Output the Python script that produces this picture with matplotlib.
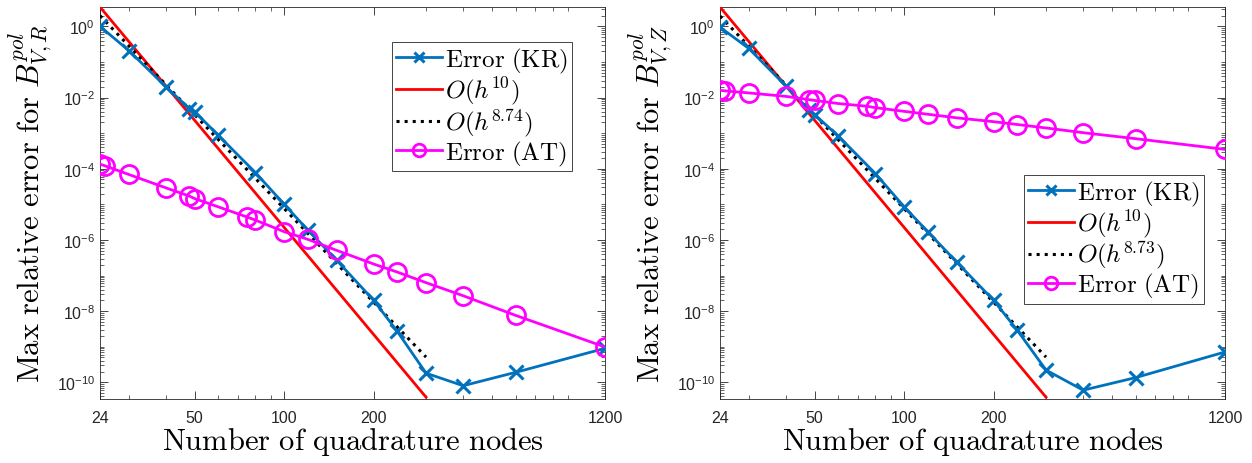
import numpy as np
import matplotlib
matplotlib.use("Agg")
import matplotlib.pyplot as plt
from matplotlib.ticker import FixedLocator, FixedFormatter, LogLocator, NullFormatter, LogFormatterSciNotation

# ---------------- data ----------------
kr_x = [24, 30, 40, 48, 50, 60, 80, 100, 120, 150, 200, 240, 300, 400, 600, 1200]
at_x = [24, 25, 30, 40, 48, 50, 60, 75, 80, 100, 120, 150, 200, 240, 300, 400, 600, 1200]

kr_R = [1.0, 0.21, 0.02, 4.9e-3, 4.0e-3, 8.7e-4, 7.8e-5, 1.0e-5, 1.9e-6, 2.7e-7,
        2.0e-8, 2.7e-9, 1.8e-10, 8.0e-11, 1.9e-10, 9.0e-10]
at_R = [1.35e-4, 1.2e-4, 6.9e-5, 2.9e-5, 1.7e-5, 1.45e-5, 8.5e-6, 4.4e-6, 3.6e-6,
        1.7e-6, 1.04e-6, 5.1e-7, 2.1e-7, 1.25e-7, 6.3e-8, 2.7e-8, 7.6e-9, 9.8e-10]

kr_Z = [0.95, 0.24, 0.021, 4.4e-3, 3.3e-3, 8.3e-4, 7.3e-5, 8.5e-6, 1.7e-6, 2.4e-7,
        2.0e-8, 2.9e-9, 2.2e-10, 6.0e-11, 1.35e-10, 7.1e-10]
at_Z = [0.016, 0.0154, 0.0135, 0.0108, 0.0087, 0.0083, 0.0068, 0.0057, 0.0052,
        0.0041, 0.0034, 0.0027, 0.0021, 0.00175, 0.0014, 0.00103, 7.0e-4, 3.5e-4]

ref_x = [24, 300]
ref10_y = [3.5, 3.8e-11]
refR_y = [2.0, 5.1e-10]
refZ_y = [1.95, 5.1e-10]

xticks = [24, 50, 100, 200, 1200]
xticklabels = ["24", "50", "100", "200", "1200"]

panels = [
    dict(kr=kr_R, at=at_R, ref=refR_y, rate="8.74", sub="V,R",
         legpos=(0.935, 0.911)),
    dict(kr=kr_Z, at=at_Z, ref=refZ_y, rate="8.73", sub="V,Z",
         legpos=(0.958, 0.572)),
]

# ---------------- style ----------------
plt.rcParams['font.family'] = ['Liberation Sans', 'DejaVu Sans']
plt.rcParams['mathtext.fontset'] = 'custom'
plt.rcParams['mathtext.rm'] = 'Liberation Sans'
plt.rcParams['mathtext.it'] = 'Liberation Sans:italic'
plt.rcParams['mathtext.bf'] = 'Liberation Sans:bold'

BLUE = '#0072BD'
RED = '#FF0000'
MAG = '#FF00FF'
GRAY = '#262626'

fig = plt.figure(figsize=(12.52, 4.64), dpi=100)
lefts = [100 / 1252, 720 / 1252]
for p, left in zip(panels, lefts):
    ax = fig.add_axes([left, 1 - 400 / 464, 505 / 1252, 392 / 464])
    ax.set_xscale('log')
    ax.set_yscale('log')
    l1, = ax.plot(kr_x, p['kr'], '-x', color=BLUE, lw=2.0, ms=10, mew=2.2,
                  label=r"$\mathrm{Error\ (KR)}$", zorder=4)
    l2, = ax.plot(ref_x, ref10_y, '-', color=RED, lw=2.0,
                  label=r"$O(h^{10})$", zorder=3)
    l3, = ax.plot(ref_x, p['ref'], ':', color='k', lw=2.2,
                  label=r"$O(h^{%s})$" % p['rate'], zorder=3)
    l4, = ax.plot(at_x, p['at'], '-o', color=MAG, lw=2.0, ms=13, mew=2.0,
                  mfc='none', label=r"$\mathrm{Error\ (AT)}$", zorder=5)
    ax.set_xlim(24, 1200)
    ax.set_ylim(10 ** -10.47, 10 ** 0.545)

    ax.xaxis.set_major_locator(FixedLocator(xticks))
    ax.xaxis.set_major_formatter(FixedFormatter(xticklabels))
    ax.xaxis.set_minor_locator(LogLocator(base=10, subs=np.arange(2, 10), numticks=50))
    ax.xaxis.set_minor_formatter(NullFormatter())

    ax.yaxis.set_major_locator(FixedLocator([10.0 ** k for k in range(-10, 1, 2)]))
    ax.yaxis.set_major_formatter(LogFormatterSciNotation())
    ax.yaxis.set_minor_locator(LogLocator(base=10, subs=np.arange(1, 10), numticks=50))
    ax.yaxis.set_minor_formatter(NullFormatter())

    ax.tick_params(which='both', direction='in', top=True, right=True,
                   colors=GRAY, labelcolor=GRAY)
    ax.tick_params(which='major', length=6, width=0.6, labelsize=11.5)
    ax.tick_params(which='minor', length=3, width=0.5)
    ax.tick_params(axis='x', pad=8)
    for s in ax.spines.values():
        s.set_color(GRAY)
        s.set_linewidth(0.6)

    ax.set_xlabel(r"$\mathrm{Number\ of\ quadrature\ nodes}$", fontsize=22,
                  math_fontfamily='cm', labelpad=0)
    ax.set_ylabel(r"$\mathrm{Max\ relative\ error\ for\ }B_{%s}^{pol}$" % p['sub'],
                  fontsize=22, math_fontfamily='cm', labelpad=2)

    leg = ax.legend(handles=[l1, l2, l3, l4], loc='upper right',
                    bbox_to_anchor=p['legpos'], fontsize=18, fancybox=False,
                    framealpha=1, edgecolor=GRAY, borderpad=0.15,
                    handlelength=1.85, handletextpad=0.12, labelspacing=0.0,
                    borderaxespad=0, numpoints=1, markerscale=0.7)
    leg.get_frame().set_linewidth(0.6)
    for t in leg.get_texts():
        t.set_math_fontfamily('cm')

fig.savefig("out.png", dpi=100)
